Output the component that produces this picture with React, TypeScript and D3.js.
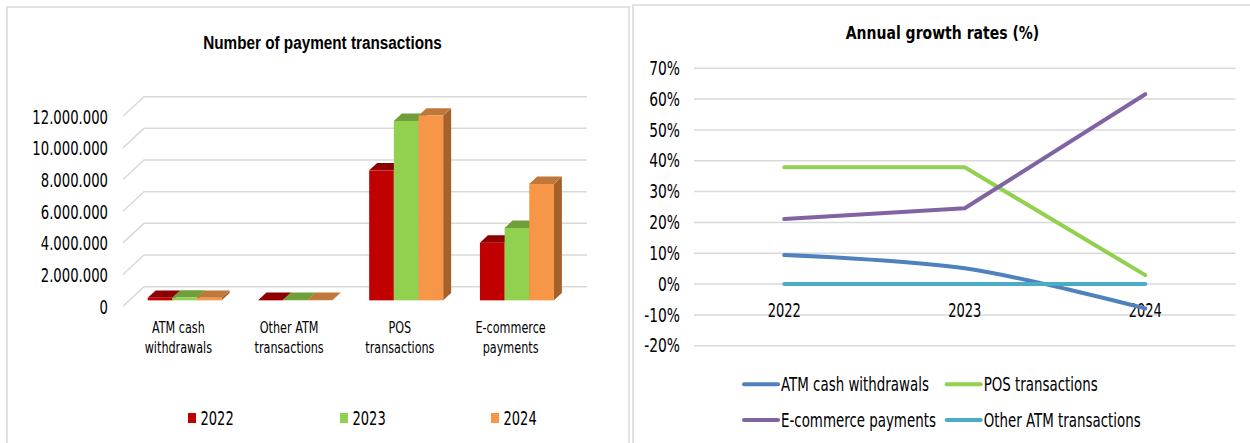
import React from "react";
import * as d3 from "d3";

// ---------- data ----------
const categories = ["ATM cash withdrawals", "Other ATM transactions", "POS transactions", "E-commerce payments"];
const categoryLines = [["ATM cash", "withdrawals"], ["Other ATM", "transactions"], ["POS", "transactions"], ["E-commerce", "payments"]];
const years = ["2022", "2023", "2024"];
const tx2022 = [160000, 30000, 8210000, 3640000];
const tx2023 = [175000, 30000, 11330000, 4570000];
const tx2024 = [160000, 30000, 11670000, 7350000];
const barTicks = [0, 2000000, 4000000, 6000000, 8000000, 10000000, 12000000];

const growthNames = ["ATM cash withdrawals", "POS transactions", "E-commerce payments", "Other ATM transactions"];
const atmGrowth = [9.4, 5.1, -7.9];
const posGrowth = [37.9, 37.9, 2.9];
const ecomGrowth = [21.1, 24.6, 61.6];
const otherAtmGrowth = [0, 0, 0];
const growthTicks = [-20, -10, 0, 10, 20, 30, 40, 50, 60, 70];

// ---------- style ----------
const FONT = "DejaVu Sans, Verdana, sans-serif";
const GRID = "#d9d9d9";
const yearFront = ["#c00000", "#92d050", "#f79646"];
const yearTop = ["#8e0000", "#6f9e3a", "#c0773a"];
const yearSide = ["#7a0000", "#5e8a30", "#a4612a"];
const lineColors = ["#4f81bd", "#92d050", "#8064a2", "#4bacc6"];

type TP = {
  x: number; y: number; text: string; size: number; sx?: number; sy?: number;
  anchor?: "start" | "middle" | "end"; weight?: string | number; family?: string; fill?: string;
};
function T({ x, y, text, size, sx = 0.87, sy = 1.24, anchor = "start", weight = "normal", family = FONT, fill = "#000" }: TP) {
  return (
    <text transform={`translate(${x},${y}) scale(${sx},${sy})`} fontSize={size} fontFamily={family}
      fontWeight={weight} textAnchor={anchor} fill={fill}>{text}</text>
  );
}

const thousandsFmt = d3.formatLocale({ decimal: ",", thousands: ".", grouping: [3], currency: ["", ""] }).format(",");

function BarChart() {
  const series = [tx2022, tx2023, tx2024];
  const x = d3.scaleBand<string>().domain(categories).range([123, 566]).padding(0);
  const y = d3.scaleLinear().domain([0, 12000000]).range([306.2, 116.2]);
  const D = [21, -19.5];
  const groupW = 74;
  const inner = d3.scaleBand<string>().domain(years).range([0, groupW]).padding(0);
  const f0 = 0.3, fb = 0.38;
  const ox = D[0] * f0, oy = D[1] * f0;
  const bx = D[0] * fb, by = D[1] * fb;

  return (
    <g>
      <T x={322.5} y={49} text="Number of payment transactions" size={15.3} sx={1} sy={1.24}
        anchor="middle" weight="bold" family="Liberation Sans, Arial, sans-serif" />
      {barTicks.map((t) => {
        const yy = y(t);
        return (
          <g key={t}>
            <polyline points={`123,${yy} ${123 + D[0]},${yy + D[1]} ${566 + D[0]},${yy + D[1]}`}
              fill="none" stroke={GRID} strokeWidth={1.5} />
            <T x={108} y={yy + 7.5} text={thousandsFmt(t)} size={15.2} anchor="end" />
          </g>
        );
      })}
      {categories.map((c, ci) => {
        const start = (x(c) as number) + (x.bandwidth() - groupW) / 2;
        return (
          <g key={c}>
            {years.map((yr, yi) => {
              const v = series[yi][ci];
              const x0 = start + (inner(yr) as number) + ox;
              const x1 = x0 + inner.bandwidth();
              const yt = y(v) + oy;
              const yb = y(0) + oy;
              return (
                <g key={yr}>
                  <polygon points={`${x1},${yt} ${x1 + bx},${yt + by} ${x1 + bx},${yb + by} ${x1},${yb}`} fill={yearSide[yi]} />
                  <polygon points={`${x0},${yt} ${x0 + bx},${yt + by} ${x1 + bx},${yt + by} ${x1},${yt}`} fill={yearTop[yi]} />
                  <rect x={x0} y={yt} width={x1 - x0} height={Math.max(0, yb - yt)} fill={yearFront[yi]} />
                </g>
              );
            })}
          </g>
        );
      })}
      {categories.map((c, ci) => {
        const cx = (x(c) as number) + x.bandwidth() / 2;
        return (
          <g key={c + "l"}>
            <T x={cx} y={333.3} text={categoryLines[ci][0]} size={12.9} anchor="middle" />
            <T x={cx} y={352.5} text={categoryLines[ci][1]} size={12.9} anchor="middle" />
          </g>
        );
      })}
      {years.map((yr, i) => {
        const lx = [188, 340, 491][i];
        return (
          <g key={yr + "lg"}>
            <rect x={lx} y={413} width={8} height={10} fill={yearFront[i]} />
            <T x={lx + 12.5} y={424.8} text={yr} size={15} />
          </g>
        );
      })}
    </g>
  );
}

function LineChart() {
  const x = d3.scalePoint<string>().domain(years).range([694, 1235.5]).padding(0.5);
  const y = d3.scaleLinear().domain([-20, 70]).range([345.7, 68.3]);
  const data = [atmGrowth, posGrowth, ecomGrowth, otherAtmGrowth];
  const straight = d3.line<number>().x((_, i) => x(years[i]) as number).y((d) => y(d));
  const smooth = d3.line<number>().x((_, i) => x(years[i]) as number).y((d) => y(d)).curve(d3.curveCatmullRom);
  const legendPos = [[744, 384.3], [946.7, 384.3], [744, 420], [946.7, 420]];
  return (
    <g>
      <T x={942.5} y={39} text="Annual growth rates (%)" size={13.6} sx={1.03} sy={1.24} anchor="middle" weight="bold" />
      {growthTicks.map((t) => (
        <g key={t}>
          <line x1={694} x2={1235.5} y1={y(t)} y2={y(t)} stroke={GRID} strokeWidth={1.5} />
          <T x={680} y={y(t) + 6.7} text={`${t}%`} size={15.4} sx={0.9} anchor="end" />
        </g>
      ))}
      {years.map((yr) => (
        <T key={yr} x={x(yr) as number} y={316.7} text={yr} size={15} anchor="middle" />
      ))}
      {data.map((s, i) => (
        <path key={i} d={(i === 0 ? smooth : straight)(s) as string} fill="none" stroke={lineColors[i]}
          strokeWidth={4} strokeLinecap="round" strokeLinejoin="round" />
      ))}
      {growthNames.map((n, i) => {
        const [lx, ly] = legendPos[i];
        return (
          <g key={n}>
            <line x1={lx} x2={lx + 34} y1={ly} y2={ly} stroke={lineColors[i]} strokeWidth={4} strokeLinecap="round" />
            <T x={lx + 37} y={ly + 6.8} text={n} size={15.4} />
          </g>
        );
      })}
    </g>
  );
}

export default function App() {
  return (
    <svg width={1250} height={443} style={{ position: "fixed", left: 0, top: 0, background: "#fff" }}>
      <rect x={0} y={0} width={1250} height={443} fill="#fff" />
      <rect x={7} y={7} width={622} height={460} fill="#fff" stroke={GRID} strokeWidth={1.5} />
      <rect x={633} y={5} width={640} height={460} fill="#fff" stroke={GRID} strokeWidth={1.5} />
      <BarChart />
      <LineChart />
    </svg>
  );
}
